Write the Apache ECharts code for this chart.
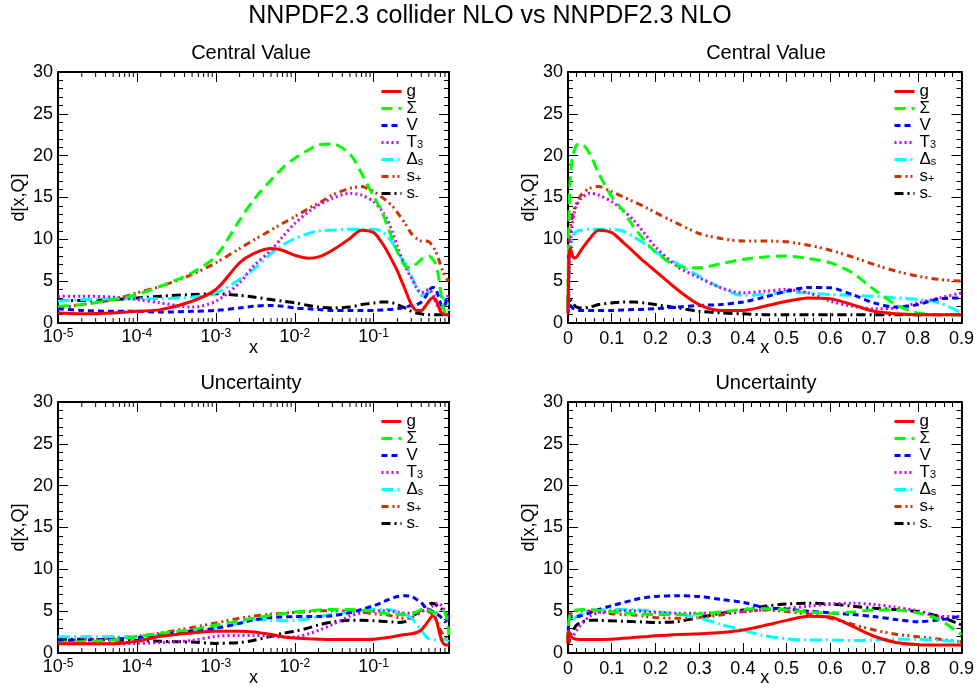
<!DOCTYPE html>
<html>
<head>
<meta charset="utf-8">
<script src="https://cdn.jsdelivr.net/npm/echarts@6/dist/echarts.min.js"></script>
<style>html,body{margin:0;padding:0;background:#fff}#c{width:977px;height:691px}</style>
</head>
<body>
<div id="c"></div>
<script>
// ---------------- data ----------------
const xs = [1e-5,2e-5,5e-5,1e-4,2e-4,5e-4,1e-3,2e-3,3e-3,5e-3,7e-3,0.01,0.015,0.02,0.03,0.05,0.07,0.1,0.125,0.15,0.175,0.2,0.25,0.3,0.35,0.4,0.45,0.5,0.55,0.6,0.65,0.7,0.75,0.8,0.85,0.9];

const seriesNames = ['g','Σ','V','T3','Δs','s+','s-'];
const legendLabels = ['g','Σ','V','T{sub|3}','Δ{sub|s}','s{sub|+}','s{sub|-}'];

// Central value
const cv_g     = [1.2,1.1,1.2,1.4,1.6,2.6,4.0,7.2,8.3,8.9,8.7,8.1,7.75,7.9,8.7,10.1,11.1,10.8,9.7,8.5,7.3,6.2,4.0,2.2,1.5,1.5,2.0,2.6,3.0,2.9,2.2,1.4,1.1,1.0,1.0,1.0];
const cv_sigma = [2.0,2.2,2.8,3.4,4.4,6.0,8.0,12.3,14.7,17.1,18.5,19.7,20.7,21.3,21.4,20.2,17.9,15.1,13.5,11.5,9.9,8.5,6.8,6.6,7.1,7.6,7.9,8.0,7.7,7.2,6.0,4.0,2.2,1.2,1.0,1.0];
const cv_V     = [1.7,1.5,1.4,1.4,1.3,1.4,1.5,1.8,2.0,2.1,2.0,1.8,1.7,1.6,1.5,1.5,1.5,1.5,1.55,1.6,1.65,1.7,1.9,2.1,2.2,2.5,3.1,3.8,4.25,4.2,3.4,2.4,1.9,2.2,2.9,3.0];
const cv_T3    = [3.2,3.2,3.1,2.8,2.4,1.9,2.6,4.8,6.8,8.7,10.3,11.9,13.3,14.1,14.9,15.5,15.3,14.5,13.5,12.3,10.7,9.1,6.75,5.4,4.2,3.6,3.8,4.0,3.6,2.6,2.0,1.7,1.8,2.4,3.0,3.6];
const cv_Ds    = [2.6,2.8,2.9,2.9,2.9,3.1,3.6,5.2,6.4,8.3,9.3,10.1,10.7,11.0,11.1,11.2,11.2,11.2,11.0,10.3,9.5,8.5,7.1,5.6,4.2,3.3,3.4,3.7,3.6,3.4,3.3,3.2,3.0,2.8,2.4,1.2];
const cv_sp    = [1.8,2.2,2.8,3.6,4.4,5.8,7.2,8.9,9.9,11.1,11.9,12.7,13.7,14.3,15.3,16.1,16.3,15.7,15.1,14.5,13.9,13.2,11.9,10.7,10.1,9.8,9.8,9.7,9.3,8.7,7.9,7.0,6.2,5.6,5.2,5.0];
const cv_sm    = [2.7,2.7,2.8,3.0,3.2,3.4,3.5,3.3,3.1,2.8,2.6,2.4,2.1,1.9,1.8,1.9,2.2,2.4,2.5,2.5,2.4,2.2,1.8,1.4,1.2,1.1,1.0,1.0,1.0,1.0,1.0,1.0,1.0,1.0,1.0,1.0];

// Uncertainty
const un_g     = [1.1,1.1,1.1,1.4,2.0,2.4,2.6,2.6,2.5,2.2,1.95,1.8,1.7,1.65,1.6,1.6,1.62,1.65,1.75,1.85,1.95,2.05,2.2,2.3,2.45,2.75,3.3,3.9,4.4,4.3,3.2,2.0,1.25,1.0,0.95,0.95];
const un_sigma = [1.2,1.35,1.55,1.95,2.35,2.8,3.35,3.85,4.15,4.5,4.7,4.9,5.05,5.15,5.2,5.2,5.1,4.95,4.8,4.7,4.65,4.6,4.6,4.7,4.9,5.2,5.3,5.15,4.9,4.75,4.9,5.15,5.15,4.8,3.95,2.15];
const un_V     = [1.5,1.55,1.65,1.85,2.15,2.65,2.95,3.55,3.95,4.25,4.3,4.35,4.35,4.35,4.45,4.8,5.2,5.65,6.0,6.35,6.6,6.75,6.85,6.75,6.4,6.05,5.45,5.25,5.0,4.8,4.6,4.35,4.0,3.75,3.95,4.4];
const un_T3    = [1.1,1.1,1.1,1.15,1.25,1.5,2.0,2.1,2.1,2.0,1.9,1.9,2.3,2.7,3.4,4.4,4.8,5.0,5.05,5.05,4.95,4.85,4.75,4.75,4.85,4.95,5.15,5.35,5.6,5.85,5.95,5.8,5.45,5.05,4.35,4.35];
const un_Ds    = [1.95,1.95,1.95,1.95,2.15,2.4,3.05,3.55,4.0,3.9,3.85,3.9,4.1,4.35,4.6,4.9,5.1,5.2,5.2,5.2,5.1,4.95,4.65,4.2,3.4,2.75,2.05,1.7,1.55,1.55,1.5,1.55,1.65,1.65,1.5,1.35];
const un_sp    = [1.5,1.6,1.8,2.0,2.4,3.05,3.6,4.15,4.4,4.65,4.75,4.85,4.95,5.05,5.05,5.0,4.9,4.7,4.6,4.55,4.4,4.25,4.15,4.25,4.55,4.95,5.15,4.95,4.65,4.15,3.45,2.75,2.25,1.95,1.65,1.35];
const un_sm    = [1.65,1.65,1.55,1.5,1.4,1.3,1.15,1.25,1.5,2.0,2.35,2.6,3.0,3.35,3.7,3.9,3.9,3.85,3.8,3.75,3.7,3.65,3.75,4.25,4.75,5.15,5.6,5.85,5.95,5.85,5.6,5.35,5.2,4.95,4.35,3.35];

const centralSets = [cv_g, cv_sigma, cv_V, cv_T3, cv_Ds, cv_sp, cv_sm];
const uncertSets  = [un_g, un_sigma, un_V, un_T3, un_Ds, un_sp, un_sm];

// log-x axis: decades -5 .. -1, range up to x = 0.9
const X_MIN = 1e-5, X_MAX = 0.9;
const logMinor = [];
for (let e = -5; e <= -1; e++) for (let k = 2; k <= 9; k++) { const v = k * Math.pow(10, e); if (v < X_MAX * 0.999) logMinor.push(v); }

// ---------------- styles ----------------
const FONT = '"Liberation Sans",Arial,Helvetica,sans-serif';
const colors = ['#ff0000','#00ff00','#0000ff','#cc00ff','#00ffff','#cc3300','#000000'];
const dashes = ['solid',[11,6],[6,4],[2,3],[12,4,2,4],[7,4,2,3,2,4],[9,4,2,4]];

const grids = [
  {left:58, top:72, width:391, height:251},
  {left:568, top:72, width:394, height:251},
  {left:58, top:402, width:391, height:251},
  {left:568, top:402, width:394, height:251}
];
const isLog = [true,false,true,false];

const AXC = '#000';
const xAxes = [], yAxes = [];
grids.forEach((g, gi) => {
  ['bottom','top'].forEach(pos => {
    const main = pos === 'bottom';
    const ax = {
      type:'value', gridIndex: gi, position: pos,
      axisLine: {show:true, onZero:false, lineStyle:{color:AXC, width:2}},
      axisTick: {show:true, inside:true, length:10, lineStyle:{color:AXC, width:1}},
      splitLine: {show:false},
      axisLabel: {show: main, color:'#000', fontFamily: FONT, fontSize: 18, margin: 7, hideOverlap:false}
    };
    if (isLog[gi]) {
      Object.assign(ax, {min: Math.log10(X_MIN), max: Math.log10(X_MAX), interval: 1});
      ax.axisLabel.margin = 5;
      ax.axisLabel.formatter = v => Math.abs(v - Math.round(v)) > 1e-6 ? '' : '{b|10}{e|' + Math.round(v) + '}';
      ax.axisLabel.rich = {
        b: {fontSize:18, fontFamily:FONT, lineHeight:18, verticalAlign:'bottom', padding:[5,0,0,0], color:'#000'},
        e: {fontSize:12, fontFamily:FONT, lineHeight:12, verticalAlign:'top', color:'#000'}
      };
    } else {
      Object.assign(ax, {min:0, max:0.9, interval:0.1,
        minorTick:{show:true, splitNumber:5, length:5, lineStyle:{color:AXC, width:1}}});
      ax.axisLabel.formatter = v => v === 0 ? '0' : v.toFixed(1);
    }
    if (main) {
      ax.name = 'x'; ax.nameLocation = 'middle'; ax.nameGap = 16; ax.nameMoveOverlap = false;
      ax.nameTextStyle = {fontFamily:FONT, fontSize:18, color:'#000'};
    }
    xAxes.push(ax);
  });
  ['left','right'].forEach(pos => {
    const main = pos === 'left';
    const ay = {
      type:'value', gridIndex: gi, position: pos, min:0, max:30, interval:5,
      axisLine: {show:true, onZero:false, lineStyle:{color:AXC, width:2}},
      axisTick: {show:true, inside:true, length:10, lineStyle:{color:AXC, width:1}},
      minorTick: {show:true, splitNumber:5, length:5, lineStyle:{color:AXC, width:1}},
      splitLine: {show:false},
      axisLabel: {show: main, color:'#000', fontFamily: FONT, fontSize: 18, margin: 5}
    };
    if (main) {
      ay.name = 'd[x,Q]'; ay.nameLocation = 'middle'; ay.nameGap = 30; ay.nameRotate = 90; ay.nameMoveOverlap = false;
      ay.nameTextStyle = {fontFamily:FONT, fontSize:18, color:'#000'};
    }
    yAxes.push(ay);
  });
});

const xval = (gi, x) => isLog[gi] ? Math.log10(x) : x;

const series = [];
grids.forEach((g, gi) => {
  const sets = gi < 2 ? centralSets : uncertSets;
  sets.forEach((arr, si) => {
    series.push({
      type:'line', name: seriesNames[si], xAxisIndex: 2*gi, yAxisIndex: 2*gi,
      data: xs.map((x, i) => [xval(gi, x), arr[i]]),
      symbol:'none', showSymbol:false, smooth:0.3, clip:true,
      lineStyle:{color: colors[si], width:3, type: dashes[si]},
      itemStyle:{color: colors[si]},
      z: 3 + (7 - si)
    });
  });
  if (isLog[gi]) {
    series.push({
      type:'custom', xAxisIndex: 2*gi, yAxisIndex: 2*gi, silent:true, z:20,
      data: logMinor.map(v => [Math.log10(v), 0]),
      encode: {x:0, y:1},
      renderItem: (params, api) => {
        const b = api.coord([api.value(0), 0]);
        const t = api.coord([api.value(0), 30]);
        return {type:'group', children:[
          {type:'line', shape:{x1:b[0], y1:b[1], x2:b[0], y2:b[1]-5}, style:{stroke:'#000', lineWidth:1}},
          {type:'line', shape:{x1:t[0], y1:t[1], x2:t[0], y2:t[1]+5}, style:{stroke:'#000', lineWidth:1}}
        ]};
      }
    });
  }
});

const legendPos = [{left:380, top:83},{left:893, top:83},{left:380, top:413},{left:893, top:413}];
const legends = legendPos.map(p => ({
  left:p.left, top:p.top, orient:'vertical', padding:0, itemGap:0,
  itemWidth:20, itemHeight:10,
  data: seriesNames.slice(),
  selectedMode:false,
  lineStyle:{width:3},
  itemStyle:{color:'rgba(0,0,0,0)', borderWidth:0, opacity:0},
  formatter: name => legendLabels[seriesNames.indexOf(name)],
  textStyle:{fontFamily:FONT, fontSize:17, lineHeight:16, color:'#000',
    rich:{sub:{fontFamily:FONT, fontSize:11, lineHeight:8, verticalAlign:'bottom', color:'#000'}}}
}));

const titles = [
  {text:'NNPDF2.3 collider NLO vs NNPDF2.3 NLO', left:490, top:4, textAlign:'center', padding:0,
   textStyle:{fontFamily:FONT, fontSize:25, fontWeight:'normal', color:'#000'}},
  {text:'Central Value', left:251, top:43, textAlign:'center', padding:0,
   textStyle:{fontFamily:FONT, fontSize:20, fontWeight:'normal', color:'#000'}},
  {text:'Central Value', left:766, top:43, textAlign:'center', padding:0,
   textStyle:{fontFamily:FONT, fontSize:20, fontWeight:'normal', color:'#000'}},
  {text:'Uncertainty', left:251, top:373, textAlign:'center', padding:0,
   textStyle:{fontFamily:FONT, fontSize:20, fontWeight:'normal', color:'#000'}},
  {text:'Uncertainty', left:766, top:373, textAlign:'center', padding:0,
   textStyle:{fontFamily:FONT, fontSize:20, fontWeight:'normal', color:'#000'}}
];

const chart = echarts.init(document.getElementById('c'), null, {renderer:'canvas'});
chart.setOption({
  animation:false,
  backgroundColor:'#fff',
  title: titles,
  legend: legends,
  grid: grids.map(g => Object.assign({containLabel:false}, g)),
  xAxis: xAxes,
  yAxis: yAxes,
  series: series
});
</script>
</body>
</html>
